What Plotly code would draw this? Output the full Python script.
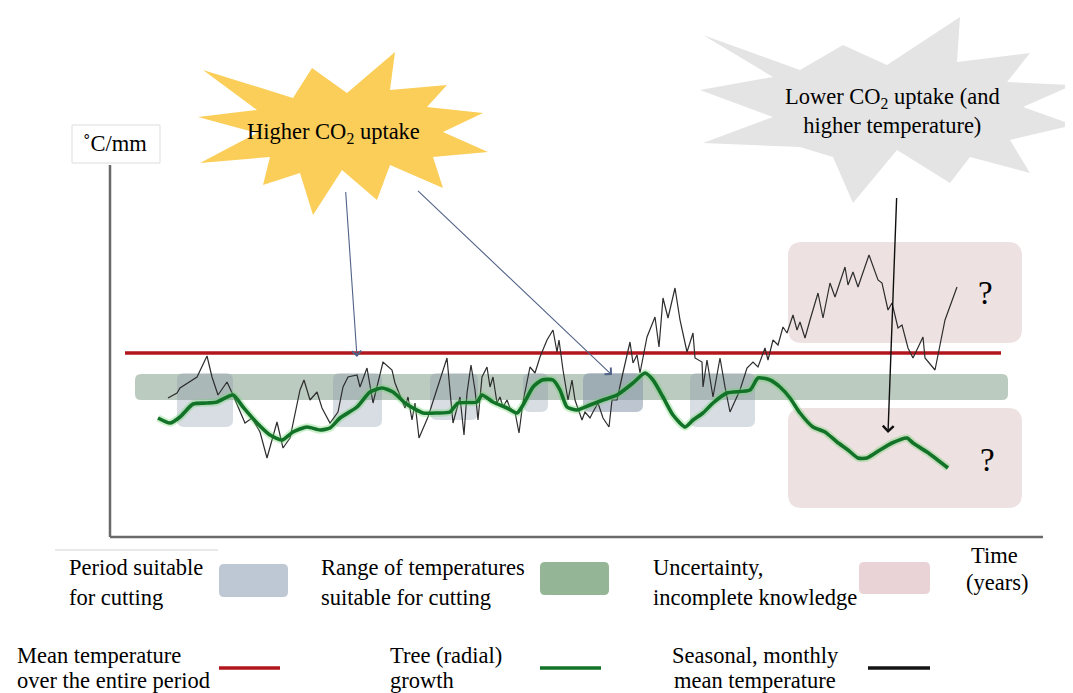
import plotly.graph_objects as go

# ---------------- data (schematic units: time on x, °C/mm on y) ----------------
temp_t = [58, 67, 70, 87, 97, 102, 108, 117, 123, 135, 142, 150, 157, 167, 173, 180, 190, 194, 200, 207,
          212, 220, 228, 233, 238, 247, 250, 257, 263, 268, 273, 282, 285, 295, 298, 302, 305, 309, 318, 337,
          340, 343, 350, 354, 357, 361, 365, 368, 372, 377, 380, 383, 387, 390, 393, 397, 400, 405, 409, 413,
          420, 425, 430, 437, 443, 447, 449, 453, 458, 462, 465, 472, 475, 480, 483, 488, 493, 499, 502, 507,
          512, 520, 523, 527, 530, 537, 545, 549, 553, 558, 565, 570, 577, 583, 585, 592, 593, 597, 603, 610,
          615, 620, 630, 637, 643, 648, 655, 658, 663, 668, 673, 677, 683, 687, 690, 695, 700, 708, 713, 720,
          725, 735, 738, 743, 748, 759, 768, 772, 778, 782, 788, 792, 798, 803, 813, 815, 825, 835, 847]
temp_v = [139, 144, 149, 160, 181, 160, 142, 155, 142, 114, 119, 105, 79, 115, 89, 99, 147, 157, 137, 145,
          129, 114, 125, 150, 160, 162, 150, 169, 134, 155, 175, 167, 154, 129, 140, 117, 134, 99, 120, 179,
          150, 114, 140, 102, 144, 172, 147, 117, 160, 170, 150, 160, 134, 140, 130, 137, 129, 125, 104, 135,
          170, 164, 180, 197, 207, 185, 197, 167, 137, 157, 137, 117, 125, 119, 125, 134, 119, 110, 137, 137,
          160, 195, 174, 182, 164, 200, 220, 190, 239, 219, 249, 217, 185, 204, 179, 175, 150, 177, 140, 179,
          150, 125, 147, 169, 175, 170, 189, 177, 197, 192, 210, 204, 222, 207, 215, 199, 217, 244, 219, 254,
          240, 270, 252, 265, 250, 282, 257, 254, 227, 234, 209, 212, 189, 179, 200, 179, 167, 217, 250]

growth_t = [48, 60, 70, 83, 97, 107, 123, 133, 147, 160, 172, 183, 197, 210, 220, 230, 247, 260, 272, 283,
            295, 303, 313, 327, 340, 348, 367, 372, 383, 397, 407, 413, 423, 432, 443, 450, 457, 467, 480, 493,
            507, 523, 535, 543, 553, 563, 575, 583, 593, 603, 617, 640, 648, 660, 670, 680, 690, 703, 715, 727,
            738, 748, 757, 770, 782, 797, 803, 817, 838]
growth_v = [119, 114, 120, 133, 134, 135, 142, 130, 114, 102, 97, 105, 110, 107, 109, 119, 130, 145, 149, 145,
            134, 129, 124, 124, 125, 134, 135, 142, 135, 129, 124, 132, 150, 157, 157, 147, 130, 127, 132, 137,
            142, 154, 164, 157, 140, 122, 110, 117, 124, 134, 144, 147, 159, 157, 150, 139, 124, 110, 105, 95,
            87, 79, 79, 87, 94, 99, 94, 85, 69]

mean_t = [15, 891]
mean_v = [184, 184]

band_t = [25, 898]          # range of temperatures suitable for cutting
band_v = [137, 163]

cut_t0 = [67, 223, 320, 413, 473, 580]     # periods suitable for cutting
cut_t1 = [123, 272, 368, 438, 533, 645]
cut_lo = [110, 110, 117, 125, 125, 110]
cut_hi = [164, 164, 164, 164, 164, 164]

unc_t = [678, 912]                      # uncertainty boxes
unc_lo = [194, 29]
unc_hi = [295, 129]

legend_rows = [
    (["Period suitable", "for cutting"], -43, "left"),
    (["Range of temperatures", "suitable for cutting"], 209, "left"),
    (["Uncertainty,", "incomplete knowledge"], 541, "left"),
]
legend_rows2 = [
    (["Mean temperature", "over the entire period"], -95, "left"),
    (["Tree (radial)", "growth"], 278, "left"),
    (["Seasonal, monthly", "mean temperature"], 645, "center"),
]

sun_pts = [(93, 467), (183, 439), (202, 469), (237, 444), (285, 485), (280, 447), (337, 452), (317, 430),
           (373, 424), (333, 405), (378, 385), (323, 380), (333, 349), (280, 372), (267, 337), (232, 367),
           (203, 322), (190, 364), (153, 352), (160, 380), (90, 374), (147, 404), (88, 420), (147, 427)]
cloud_pts = [(593, 502), (690, 467), (733, 492), (777, 472), (850, 520), (847, 475), (920, 484), (897, 455),
             (963, 452), (913, 430), (963, 412), (900, 397), (920, 364), (860, 380), (840, 354), (787, 387),
             (743, 334), (723, 380), (690, 390), (593, 394), (663, 420), (590, 447), (663, 460)]

SERIF = "Liberation Serif, Times New Roman, serif"
FS = 22.5


def rrect(x0, x1, y0, y1, r):
    return (f"M{x0+r},{y0} L{x1-r},{y0} Q{x1},{y0} {x1},{y0+r} L{x1},{y1-r} Q{x1},{y1} {x1-r},{y1} "
            f"L{x0+r},{y1} Q{x0},{y1} {x0},{y1-r} L{x0},{y0+r} Q{x0},{y0} {x0+r},{y0} Z")


def poly(pts):
    return "M" + " L".join(f"{a},{b}" for a, b in pts) + " Z"


shapes = []
# starbursts
shapes.append(dict(type="path", path=poly(sun_pts), fillcolor="rgb(250,206,88)", line=dict(width=0),
                   layer="below", xref="x", yref="y"))
shapes.append(dict(type="path", path=poly(cloud_pts), fillcolor="rgb(228,228,228)", line=dict(width=0),
                   layer="below", xref="x", yref="y"))
# uncertainty boxes
for lo, hi in zip(unc_lo, unc_hi):
    shapes.append(dict(type="path", path=rrect(unc_t[0], unc_t[1], lo, hi, 14),
                       fillcolor="rgba(205,168,168,0.35)", line=dict(width=0), layer="below"))
# band
shapes.append(dict(type="path", path=rrect(band_t[0], band_t[1], band_v[0], band_v[1], 6),
                   fillcolor="rgba(105,140,112,0.45)", line=dict(width=0), layer="below"))
# cutting periods
cut_alpha = [0.32, 0.32, 0.32, 0.32, 0.55, 0.32]
for t0, t1, lo, hi, a in zip(cut_t0, cut_t1, cut_lo, cut_hi, cut_alpha):
    shapes.append(dict(type="path", path=rrect(t0, t1, lo, hi, 7),
                       fillcolor=f"rgba(135,150,170,{a})", line=dict(width=0), layer="below"))
# axes
shapes.append(dict(type="line", x0=0, x1=0, y0=0, y1=372, line=dict(color="#6a6a6a", width=2.5)))
shapes.append(dict(type="line", x0=0, x1=933, y0=0, y1=0, line=dict(color="#6a6a6a", width=2.5)))
# unit box
shapes.append(dict(type="rect", x0=-38, x1=50, y0=374, y1=412, line=dict(color="#dddddd", width=1),
                   fillcolor="white", layer="below"))
# faint rule above legend
shapes.append(dict(type="line", x0=-55, x1=108, y0=-13, y1=-13, line=dict(color="#e2e2e2", width=1.5)))
# legend swatches
shapes.append(dict(type="path", path=rrect(109, 178, -60, -27, 5), fillcolor="rgb(190,200,212)",
                   line=dict(width=0)))
shapes.append(dict(type="path", path=rrect(430, 499, -58, -25, 5), fillcolor="rgb(148,182,150)",
                   line=dict(width=0)))
shapes.append(dict(type="path", path=rrect(749, 820, -57, -25, 5), fillcolor="rgb(234,211,214)",
                   line=dict(width=0)))
shapes.append(dict(type="line", x0=109, x1=170, y0=-131, y1=-131, line=dict(color="rgb(178,22,28)", width=3.5)))
shapes.append(dict(type="line", x0=430, x1=491, y0=-131, y1=-131, line=dict(color="rgb(18,115,40)", width=3.5)))
shapes.append(dict(type="line", x0=758, x1=820, y0=-131, y1=-131, line=dict(color="rgb(20,20,20)", width=3.5)))

fig = go.Figure()
fig.add_trace(go.Scatter(x=mean_t, y=mean_v, mode="lines", line=dict(color="rgb(178,22,28)", width=3.5),
                         hoverinfo="skip"))
fig.add_trace(go.Scatter(x=temp_t, y=temp_v, mode="lines", line=dict(color="rgb(45,45,45)", width=1.2),
                         hoverinfo="skip"))
fig.add_trace(go.Scatter(x=growth_t, y=growth_v, mode="lines", line=dict(color="rgba(110,210,110,0.35)",
                         width=7.5, shape="spline", smoothing=0.6), hoverinfo="skip"))
fig.add_trace(go.Scatter(x=growth_t, y=growth_v, mode="lines", line=dict(color="rgb(18,115,40)",
                         width=3.6, shape="spline", smoothing=0.6), hoverinfo="skip"))

ann = []
tf = dict(family=SERIF, size=FS, color="black")
ann.append(dict(x=223, y=404, text="Higher CO<sub>2</sub> uptake", showarrow=False, font=tf))
ann.append(dict(x=782, y=426, text="Lower CO<sub>2</sub> uptake (and<br>higher temperature)", showarrow=False,
                font=tf))
ann.append(dict(x=5, y=394, text="˚C/mm", showarrow=False, font=tf))
ann.append(dict(x=875, y=244, text="?", showarrow=False, font=dict(family=SERIF, size=33, color="black")))
ann.append(dict(x=877, y=77, text="?", showarrow=False, font=dict(family=SERIF, size=33, color="black")))
ann.append(dict(x=884, y=-18, text="Time", showarrow=False, font=tf))
ann.append(dict(x=887, y=-45, text="(years)", showarrow=False, font=tf))
for lines, x, anc in legend_rows:
    for line, y in zip(lines, [-30, -60]):
        ann.append(dict(x=x, y=y, text=line, showarrow=False, xanchor=anc, font=tf))
for lines, x, anc in legend_rows2:
    for line, y in zip(lines, [-118, -143]):
        ann.append(dict(x=x, y=y, text=line, showarrow=False, xanchor=anc, font=tf))
# arrows
arrow_c = "rgb(80,98,135)"
ann.append(dict(x=247, y=180, ax=235, ay=355, axref="x", ayref="y", showarrow=True, arrowhead=4,
                arrowsize=1.6, arrowwidth=1.1, arrowcolor=arrow_c, text=" "))
ann.append(dict(x=502, y=162, ax=305, ay=349, axref="x", ayref="y", showarrow=True, arrowhead=4,
                arrowsize=1.6, arrowwidth=1.1, arrowcolor=arrow_c, text=" "))
ann.append(dict(x=778, y=104, ax=787, ay=349, axref="x", ayref="y", showarrow=True, arrowhead=4,
                arrowsize=1.5, arrowwidth=1.4, arrowcolor="rgb(15,15,15)", text=" "))

# page body has an 8px margin: shrink the figure by 8px and shift ranges so 1 unit = 1 px
fig.update_layout(
    width=1065, height=685, margin=dict(l=0, r=0, t=0, b=0),
    paper_bgcolor="white", plot_bgcolor="white", showlegend=False,
    xaxis=dict(range=[-102, 963], visible=False, fixedrange=True),
    yaxis=dict(range=[-156, 529], visible=False, fixedrange=True),
    shapes=shapes, annotations=ann,
)
fig.write_html("out.html")
